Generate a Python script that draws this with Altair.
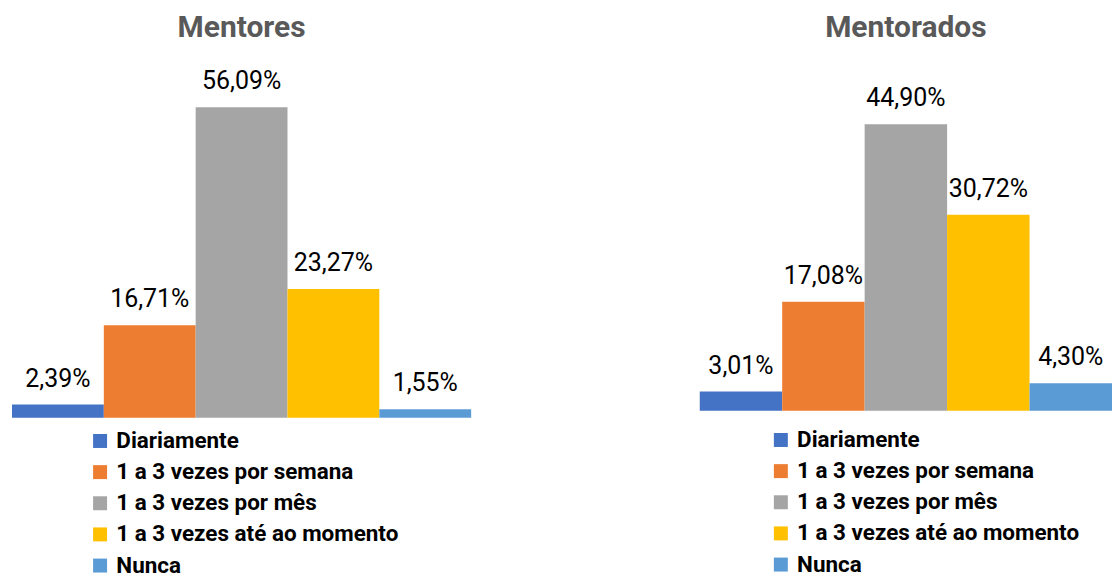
import altair as alt
import pandas as pd

categories = ["Diariamente", "1 a 3 vezes por semana", "1 a 3 vezes por mês",
              "1 a 3 vezes até ao momento", "Nunca"]
colors = ["#4472C4", "#ED7D31", "#A5A5A5", "#FFC000", "#5B9BD5"]
mentores = [2.39, 16.71, 56.09, 23.27, 1.55]
mentorados = [3.01, 17.08, 44.90, 30.72, 4.30]

FONT = "Roboto, Liberation Sans, sans-serif"


def make_df(vals):
    return pd.DataFrame({
        "cat": categories,
        "val": vals,
        "label": [f"{v:.2f}".replace(".", ",") + "%" for v in vals],
    })


def panel(vals, title, width, height, ymax, lx, ly):
    df = make_df(vals)
    base = alt.Chart(df).encode(
        x=alt.X("cat:N", sort=categories, axis=None,
                scale=alt.Scale(paddingInner=0, paddingOuter=0)),
        y=alt.Y("val:Q", axis=None, scale=alt.Scale(domain=[0, ymax], nice=False, zero=True)),
    )
    bars = base.mark_bar().encode(
        color=alt.Color("cat:N", sort=categories,
                        scale=alt.Scale(domain=categories, range=colors),
                        legend=alt.Legend(
                            title=None, orient="none", legendX=lx, legendY=ly,
                            direction="vertical", symbolType="square", symbolSize=196,
                            symbolStrokeWidth=0, labelFont=FONT, labelFontSize=22.5,
                            labelFontWeight="bold", labelColor="#000000",
                            labelOffset=5, rowPadding=8.2, labelLimit=400, padding=0,
                        ))
    )
    text = base.mark_text(font=FONT, fontSize=25, color="#000000",
                          baseline="alphabetic", dy=-18).encode(text="label:N")
    return (bars + text).properties(
        width=width, height=height,
        title=alt.TitleParams(title, font=FONT, fontSize=30, fontWeight="bold",
                              color="#595959", anchor="middle", offset=17),
    )


left = panel(mentores, "Mentores", 460, 358, 358 / 5.545, 77, 370)
right = panel(mentorados, "Mentorados", 413, 351, 351 / 6.392, 70, 369)

chart = alt.hconcat(left, right, spacing=229).resolve_scale(
    color="independent", x="independent", y="independent"
).properties(padding={"left": 4, "top": 5, "right": 0, "bottom": 0}).configure_view(
    stroke=None
)

chart.save("out.html", embed_options={"renderer": "svg", "actions": False})
